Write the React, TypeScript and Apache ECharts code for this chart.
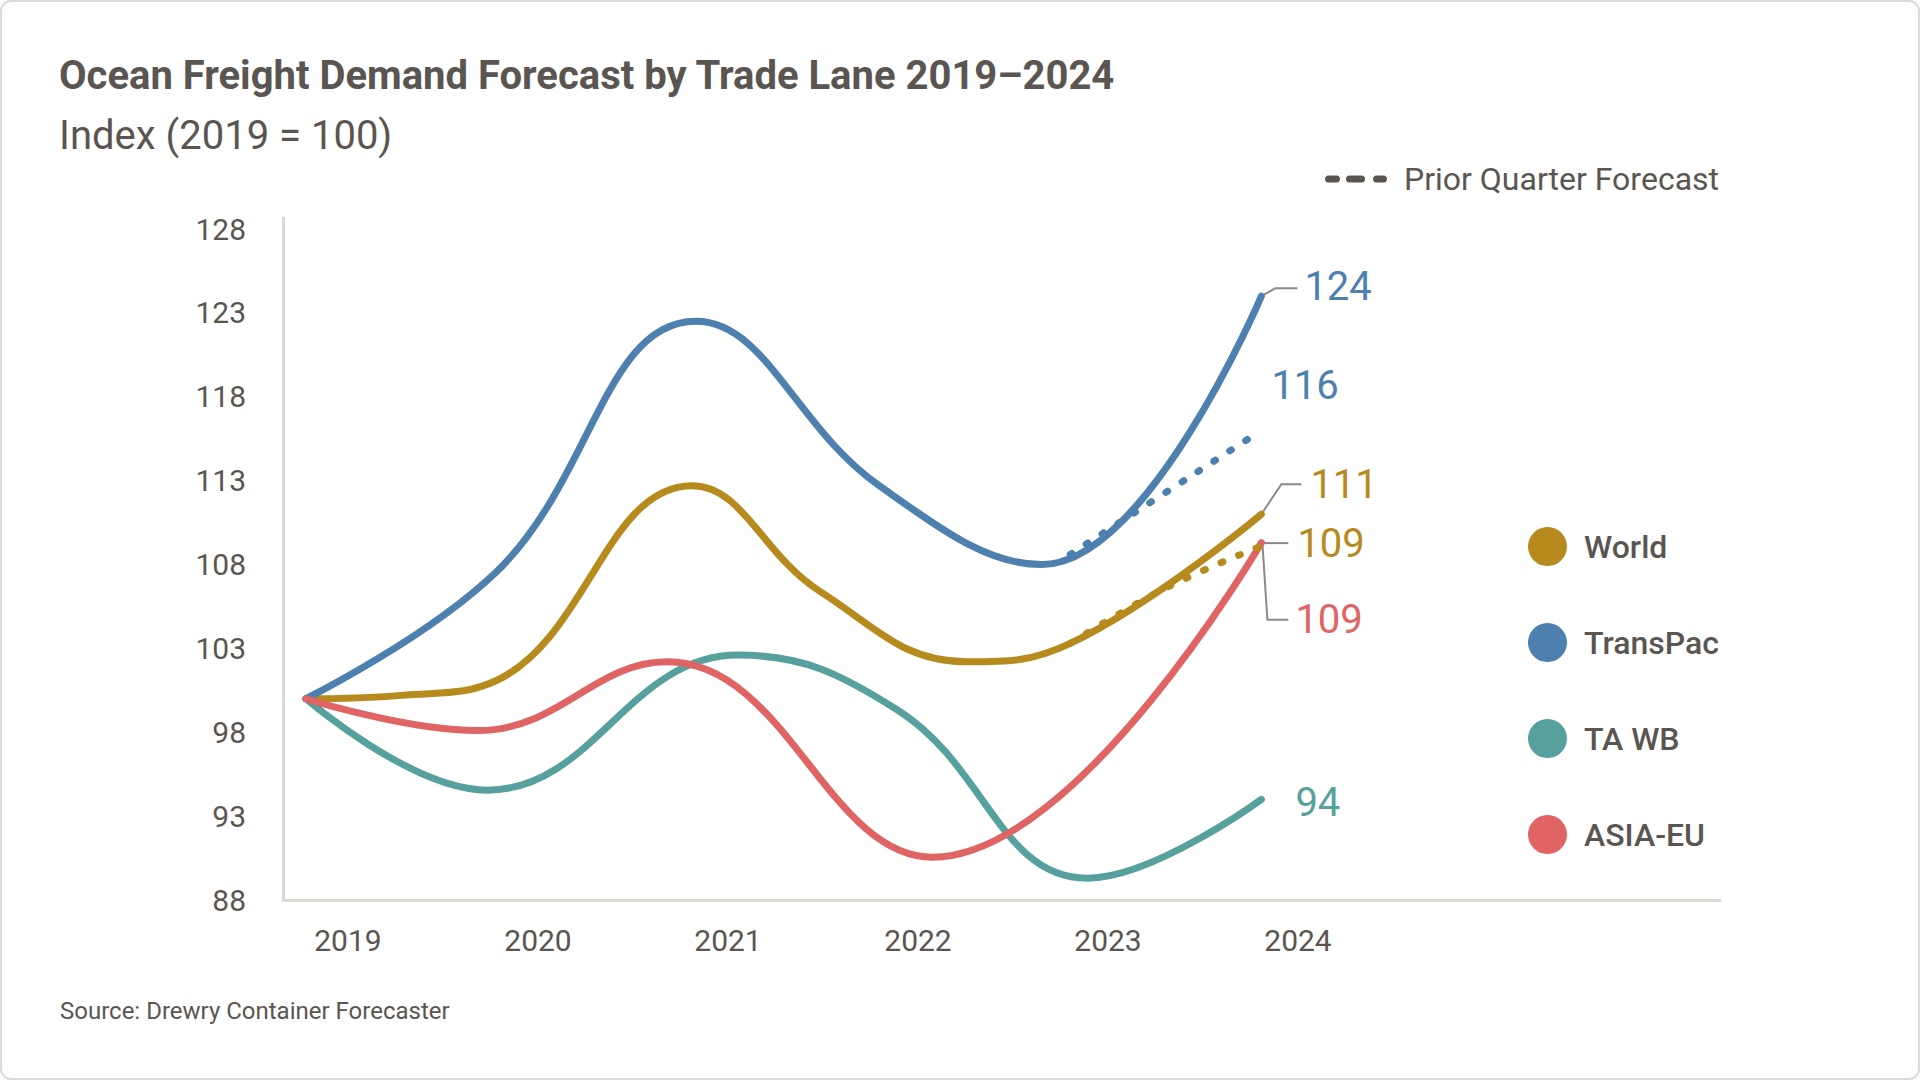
import React, { useEffect, useRef } from 'react';
import * as echarts from 'echarts';

// ---- data (start, turning points, bends and end of each curve) ----
const worldYears = [2019, 2019.5, 2020, 2021.02, 2021.69, 2022.46, 2023, 2024];
const worldValues = [100, 100.2, 101.1, 112.7, 106.4, 102.2, 103.3, 111];

const transPacYears = [2019, 2020, 2021.04, 2022, 2022.85, 2024];
const transPacValues = [100, 107.6, 122.5, 112.7, 108.0, 124];

const taWbYears = [2019, 2019.95, 2021.26, 2022.1, 2023.09, 2024];
const taWbValues = [100, 94.55, 102.6, 99.3, 89.3, 94];

const asiaEuYears = [2019, 2019.9, 2020.89, 2022.28, 2024];
const asiaEuValues = [100, 98.1, 102.2, 90.55, 109.3];

// prior quarter forecasts (dotted)
const transPacPriorYears = [2023, 2024];
const transPacPrior = [108.6, 116];
const worldPriorYears = [2023, 2023.5, 2024];
const worldPrior = [103.3, 106.6, 109.1];

const xTickLabels = [2019, 2020, 2021, 2022, 2023, 2024];
const yMin = 88;
const yTop = 128.66;
const yStep = 5;

const seriesNames = ['World', 'TransPac', 'TA WB', 'ASIA-EU'];
const priorName = 'Prior Quarter Forecast';

const COLORS: Record<string, string> = {
  World: '#B68A1D',
  TransPac: '#4D7FAF',
  'TA WB': '#56A09D',
  'ASIA-EU': '#E06464',
};
const TEXT = '#5B5551';
const AXIS = '#DCD8D3';
const LEADER = '#8E8985';
const FONT = 'Roboto, "Noto Sans", sans-serif';

// x-axis geometry
const xMin = 2018.88;
const xMax = 2026.4;
const labelMin = 2018.658;
const labelMax = 2026.221;

const pairs = (xs: number[], ys: number[]) => xs.map((x, i) => [x, ys[i]]);

export default function App() {
  const ref = useRef<HTMLDivElement>(null);

  useEffect(() => {
    if (!ref.current) return;
    const chart = echarts.init(ref.current, undefined, { renderer: 'svg' });

    const solid = (name: string, xs: number[], vals: number[]) => ({
      name,
      type: 'line',
      data: pairs(xs, vals),
      smooth: 0.42,
      symbol: 'none',
      xAxisIndex: 0,
      yAxisIndex: 0,
      itemStyle: { color: COLORS[name] },
      lineStyle: { color: COLORS[name], width: 7, cap: 'round', join: 'round' },
      emphasis: { disabled: true },
      silent: true,
    });
    const dotted = (color: string, xs: number[], vals: number[]) => ({
      name: priorName,
      type: 'line',
      data: pairs(xs, vals),
      smooth: 0.4,
      symbol: 'none',
      xAxisIndex: 0,
      yAxisIndex: 0,
      itemStyle: { color },
      lineStyle: { color, width: 7, type: [2, 17], cap: 'round' },
      emphasis: { disabled: true },
      silent: true,
      z: 3,
    });

    const option: any = {
      animation: false,
      textStyle: { fontFamily: FONT },
      title: [
        {
          text: 'Ocean Freight Demand Forecast by Trade Lane 2019–2024',
          subtext: 'Index (2019 = 100)',
          left: 59,
          top: 55,
          padding: 0,
          itemGap: 20,
          textStyle: { fontSize: 40, fontWeight: 'bold', color: TEXT, fontFamily: FONT, lineHeight: 40 },
          subtextStyle: { fontSize: 40, color: TEXT, fontFamily: FONT, lineHeight: 40 },
        },
        {
          text: 'Source: Drewry Container Forecaster',
          left: 60,
          top: 999,
          padding: 0,
          textStyle: { fontSize: 24, fontWeight: 'normal', color: TEXT, fontFamily: FONT, lineHeight: 24 },
        },
      ],
      legend: [
        {
          data: seriesNames,
          orient: 'vertical',
          left: 1528,
          top: 527,
          padding: 0,
          icon: 'circle',
          itemWidth: 39,
          itemHeight: 39,
          itemGap: 57,
          selectedMode: false,
          textStyle: { fontSize: 32, fontWeight: 500, color: TEXT, fontFamily: FONT, padding: [0, 0, 0, 12] },
        },
        {
          data: [
            {
              name: priorName,
              icon:
                'path://M3.5,0 H11.5 A3.5,3.5 0 0 1 11.5,7 H3.5 A3.5,3.5 0 0 1 3.5,0 Z M24.5,0 H36.5 A3.5,3.5 0 0 1 36.5,7 H24.5 A3.5,3.5 0 0 1 24.5,0 Z M51.5,0 H58.5 A3.5,3.5 0 0 1 58.5,7 H51.5 A3.5,3.5 0 0 1 51.5,0 Z',
              itemStyle: { color: TEXT },
            },
          ],
          left: 1325,
          top: 163,
          padding: 0,
          itemWidth: 62,
          itemHeight: 7,
          selectedMode: false,
          textStyle: { fontSize: 32, color: TEXT, fontFamily: FONT, padding: [0, 0, 0, 12] },
        },
      ],
      grid: { left: 283, right: 200, top: 218, bottom: 180, containLabel: false },
      xAxis: [
        {
          type: 'value',
          min: xMin,
          max: xMax,
          axisLine: { show: true, lineStyle: { color: AXIS, width: 3 } },
          axisTick: { show: false },
          axisLabel: { show: false },
          splitLine: { show: false },
        },
        {
          type: 'value',
          position: 'bottom',
          min: labelMin,
          max: labelMax,
          axisLine: { show: false },
          axisTick: { show: false },
          splitLine: { show: false },
          axisLabel: {
            show: true,
            customValues: xTickLabels,
            formatter: (v: number) => String(Math.round(v)),
            fontSize: 30,
            color: TEXT,
            fontFamily: FONT,
            margin: 25,
          },
        },
      ],
      yAxis: {
        type: 'value',
        min: yMin,
        max: yTop,
        interval: yStep,
        axisLine: { show: true, lineStyle: { color: AXIS, width: 3 } },
        axisTick: { show: false },
        splitLine: { show: false },
        axisLabel: {
          showMaxLabel: false,
          fontSize: 30,
          color: TEXT,
          fontFamily: FONT,
          margin: 37,
        },
      },
      series: [
        solid('World', worldYears, worldValues),
        solid('TransPac', transPacYears, transPacValues),
        solid('TA WB', taWbYears, taWbValues),
        solid('ASIA-EU', asiaEuYears, asiaEuValues),
        dotted(COLORS.TransPac, transPacPriorYears, transPacPrior),
        dotted(COLORS.World, worldPriorYears, worldPrior),
      ],
    };

    chart.setOption(option);

    const px = (x: number, y: number) =>
      chart.convertToPixel({ xAxisIndex: 0, yAxisIndex: 0 }, [x, y]) as number[];
    const last = (a: number[]) => a[a.length - 1];

    type EndLabel = {
      x: number;
      y: number;
      color: string;
      dx: number;
      dy: number;
      leader?: number[][];
    };
    const endLabels: EndLabel[] = [
      { x: last(transPacYears), y: last(transPacValues), color: COLORS.TransPac, dx: 43, dy: -10, leader: [[0, 0], [14, -8], [36, -8]] },
      { x: last(transPacPriorYears), y: last(transPacPrior), color: COLORS.TransPac, dx: 10, dy: -45 },
      { x: last(worldYears), y: last(worldValues), color: COLORS.World, dx: 49, dy: -30, leader: [[0, 0], [20, -30], [40, -30]] },
      { x: last(worldPriorYears), y: last(worldPrior), color: COLORS.World, dx: 36, dy: -3, leader: [[1, -3], [27, -3]] },
      { x: last(asiaEuYears), y: last(asiaEuValues), color: COLORS['ASIA-EU'], dx: 34, dy: 77, leader: [[1, 0], [6, 77], [27, 77]] },
      { x: last(taWbYears), y: last(taWbValues), color: COLORS['TA WB'], dx: 34, dy: 3 },
    ];

    const graphics: any[] = [
      {
        type: 'rect',
        shape: { x: 1, y: 1, width: 1918, height: 1078, r: 10 },
        style: { fill: 'none', stroke: '#DEDAD5', lineWidth: 2 },
        silent: true,
        z: -1,
      },
    ];
    endLabels.forEach((l) => {
      const [ex, ey] = px(l.x, l.y);
      if (l.leader) {
        graphics.push({
          type: 'polyline',
          shape: { points: l.leader.map(([a, b]) => [ex + a, ey + b]) },
          style: { stroke: LEADER, lineWidth: 2, fill: 'none' },
          silent: true,
          z: 1,
        });
      }
      graphics.push({
        type: 'text',
        x: ex + l.dx,
        y: ey + l.dy,
        style: {
          text: String(Math.round(l.y)),
          fill: l.color,
          fontSize: 40,
          fontFamily: FONT,
          align: 'left',
          verticalAlign: 'middle',
          textAlign: 'left',
          textVerticalAlign: 'middle',
        },
        silent: true,
        z: 5,
      });
    });

    chart.setOption({ graphic: graphics });

    return () => {
      chart.dispose();
    };
  }, []);

  return (
    <div
      ref={ref}
      style={{ position: 'fixed', left: 0, top: 0, width: 1920, height: 1080, background: '#ffffff' }}
    />
  );
}
